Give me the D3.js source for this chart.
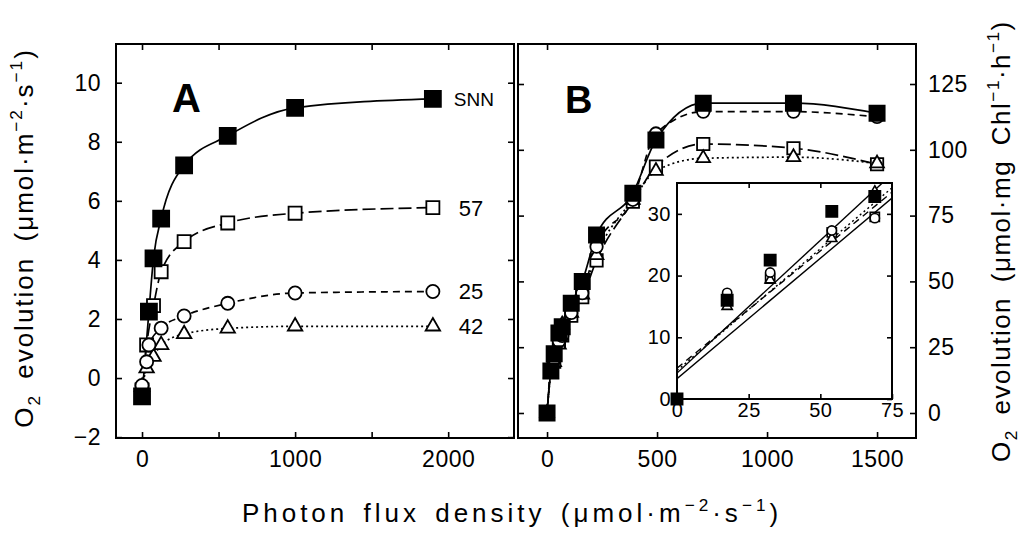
<!DOCTYPE html>
<meta charset="utf-8">
<style>
  body { margin: 0; background: #fff; }
  text { font-family: "Liberation Sans", Arial, sans-serif; fill: #000; }
</style>
<body>
<script src="https://cdn.jsdelivr.net/npm/d3@7"></script>
<script>
// ---- panel A : per leaf area ----
var aX = [0, 30, 45, 75, 125, 275, 560, 1000, 1900];
var aSNN = [-0.62, null, 2.25, 4.05, 5.4, 7.2, 8.2, 9.15, 9.45];
var a57 = [-0.4, 1.12, null, 2.45, 3.6, 4.62, 5.25, 5.58, 5.77];
var a25 = [-0.25, 0.55, 1.12, null, 1.69, 2.1, 2.53, 2.88, 2.93];
var a42 = [-0.3, 0.33, null, 0.72, 1.12, 1.49, 1.68, 1.75, 1.75];
var aLabels = ["SNN", "57", "25", "42"];

// ---- panel B : per chlorophyll ----
var bX = [0, 17.5, 32.5, 54, 69, 110, 160, 225, 390, 495, 710, 1120, 1500];
var bSNN = [0, 16, 22.5, 30.4, 32.8, 41.7, 50, 67.6, 83.5, 103.7, 117.7, 117.7, 113.9];
var b57 = [0, 16, 19.5, 27, 29.5, 37, 44, 58, 80.3, 93.6, 102.2, 100.6, 94.5];
var b25 = [0, 17.2, 20.5, 27.3, 29.3, 38, 45.5, 63.2, 81, 106.2, 114.5, 114.5, 112.5];
var b42 = [0, 15, 19.3, 26, 33.6, 38, 45, 60, 81, 92, 96.8, 97.2, 94.8];

// inset: linear fits of the low light part (order SNN, 57, 25, 42)
var fitIntercept = [4.2, 3.3, 5.0, 4.6];
var fitSlope = [0.43, 0.39, 0.38, 0.395];

var aTicksY = [-2, 0, 2, 4, 6, 8, 10];
var aTicksX = [0, 500, 1000, 1500, 2000];
var bTicksY = [0, 25, 50, 75, 100, 125];
var bTicksX = [0, 500, 1000, 1500];
var iTicksY = [0, 10, 20, 30];
var iTicksX = [0, 25, 50, 75];

var W = 1024, H = 536;
var svg = d3.select("body").append("svg").attr("width", W).attr("height", H);

var boxA = {x0: 116, x1: 514, y0: 44, y1: 438};
var boxB = {x0: 518, x1: 916, y0: 44, y1: 438};
var boxI = {x0: 677, x1: 892, y0: 183, y1: 399};

var xA = d3.scaleLinear().domain([-170, 2430]).range([boxA.x0, boxA.x1]);
var yA = d3.scaleLinear().domain([-2.03, 11.31]).range([boxA.y1, boxA.y0]);
var xB = d3.scaleLinear().domain([-132, 1677]).range([boxB.x0, boxB.x1]);
var yB = d3.scaleLinear().domain([-9.5, 140.2]).range([boxB.y1, boxB.y0]);
var xI = d3.scaleLinear().domain([0, 75]).range([boxI.x0, boxI.x1]);
var yI = d3.scaleLinear().domain([0, 35]).range([boxI.y1, boxI.y0]);

var fmt = d3.format("d");

// series styles: SNN, 57, 25, 42
var dashes = [null, "13,5", "7,5", "2,3"];
var symbols = [d3.symbolSquare, d3.symbolSquare, d3.symbolCircle, d3.symbolTriangle];
var filled = [true, false, false, false];
var sizes = [256, 170, 135, 90];
var drawOrder = [1, 3, 2, 0];

function axis(g, ax, fs) {
  g.call(ax);
  g.select(".domain").remove();
  g.attr("font-size", fs).attr("font-family", null);
  g.selectAll("line").attr("stroke-width", 1.6);
  g.selectAll("text").attr("letter-spacing", "0.5px");
}

function frame(b) {
  svg.append("rect").attr("x", b.x0).attr("y", b.y0)
    .attr("width", b.x1 - b.x0).attr("height", b.y1 - b.y0)
    .attr("fill", "#fff").attr("stroke", "#000").attr("stroke-width", 2);
}

function drawSeries(g, xs, sets, x, y, scale) {
  var line = d3.line()
    .x(function (d) { return x(d[0]); })
    .y(function (d) { return y(d[1]); })
    .curve(d3.curveMonotoneX);
  sets.forEach(function (vals, i) {
    var pts = xs.map(function (v, k) { return [v, vals[k]]; })
      .filter(function (d) { return d[1] != null; });
    g.append("path").datum(pts).attr("d", line)
      .attr("fill", "none").attr("stroke", "#000").attr("stroke-width", 1.7)
      .attr("stroke-dasharray", dashes[i]);
  });
  drawOrder.forEach(function (i) {
    var pts = xs.map(function (v, k) { return [v, sets[i][k]]; })
      .filter(function (d) { return d[1] != null; });
    g.append("g").selectAll("path").data(pts).enter().append("path")
      .attr("transform", function (d) { return "translate(" + x(d[0]) + "," + y(d[1]) + ")"; })
      .attr("d", d3.symbol().type(symbols[i]).size(sizes[i] * scale))
      .attr("fill", filled[i] ? "#000" : "#fff")
      .attr("stroke", "#000").attr("stroke-width", 1.8);
  });
}

// ---- frames ----
frame(boxA);
frame(boxB);

// ---- panel A ----
axis(svg.append("g").attr("transform", "translate(" + boxA.x0 + ",0)"),
  d3.axisLeft(yA).tickValues(aTicksY).tickSize(-6).tickPadding(15), 23);
axis(svg.append("g").attr("transform", "translate(" + boxA.x1 + ",0)"),
  d3.axisRight(yA).tickValues(aTicksY).tickSize(-6).tickFormat(""), 23);
axis(svg.append("g").attr("transform", "translate(0," + boxA.y1 + ")"),
  d3.axisBottom(xA).tickValues(aTicksX).tickSize(-6).tickPadding(13)
    .tickFormat(function (d) { return d % 1000 === 0 ? fmt(d) : ""; }), 23);
axis(svg.append("g").attr("transform", "translate(0," + boxA.y0 + ")"),
  d3.axisTop(xA).tickValues(aTicksX).tickSize(-6).tickFormat(""), 23);

svg.append("clipPath").attr("id", "clipA").append("rect")
  .attr("x", boxA.x0).attr("y", boxA.y0)
  .attr("width", boxA.x1 - boxA.x0).attr("height", boxA.y1 - boxA.y0);
var gA = svg.append("g").attr("clip-path", "url(#clipA)");
var aSets = [aSNN, a57, a25, a42];
drawSeries(gA, aX, aSets, xA, yA, 1);

aLabels.forEach(function (t, i) {
  var last = aSets[i][aSets[i].length - 1];
  svg.append("text")
    .attr("x", xA(aX[aX.length - 1]) + (i === 0 ? 21 : 26))
    .attr("y", yA(last))
    .attr("dy", "0.36em")
    .attr("font-size", i === 0 ? 19 : 22)
    .text(t);
});

svg.append("text").attr("x", 172).attr("y", 112)
  .attr("font-size", 40).attr("font-weight", "bold").text("A");

// ---- panel B ----
axis(svg.append("g").attr("transform", "translate(" + boxB.x0 + ",0)"),
  d3.axisLeft(yB).tickValues(bTicksY).tickSize(-6).tickFormat(""), 23);
axis(svg.append("g").attr("transform", "translate(" + boxB.x1 + ",0)"),
  d3.axisRight(yB).tickValues(bTicksY).tickSize(-6).tickPadding(12).tickFormat(fmt), 23);
axis(svg.append("g").attr("transform", "translate(0," + boxB.y1 + ")"),
  d3.axisBottom(xB).tickValues(bTicksX).tickSize(-6).tickPadding(13).tickFormat(fmt), 23);
axis(svg.append("g").attr("transform", "translate(0," + boxB.y0 + ")"),
  d3.axisTop(xB).tickValues(bTicksX).tickSize(-6).tickFormat(""), 23);

svg.append("clipPath").attr("id", "clipB").append("rect")
  .attr("x", boxB.x0).attr("y", boxB.y0)
  .attr("width", boxB.x1 - boxB.x0).attr("height", boxB.y1 - boxB.y0);
var gB = svg.append("g").attr("clip-path", "url(#clipB)");
var bSets = [bSNN, b57, b25, b42];
drawSeries(gB, bX, bSets, xB, yB, 0.9);

svg.append("text").attr("x", 565).attr("y", 113)
  .attr("font-size", 38).attr("font-weight", "bold").text("B");

// ---- inset ----
frame(boxI);
svg.append("clipPath").attr("id", "clipI").append("rect")
  .attr("x", boxI.x0).attr("y", boxI.y0)
  .attr("width", boxI.x1 - boxI.x0).attr("height", boxI.y1 - boxI.y0);
var gI = svg.append("g").attr("clip-path", "url(#clipI)");
fitIntercept.forEach(function (b, i) {
  var xEnd = Math.min(75, (35 - b) / fitSlope[i]);
  gI.append("line")
    .attr("x1", xI(0)).attr("y1", yI(b))
    .attr("x2", xI(xEnd)).attr("y2", yI(b + fitSlope[i] * xEnd))
    .attr("stroke", "#000").attr("stroke-width", 1.4)
    .attr("stroke-dasharray", i === 0 || i === 1 ? null : dashes[i]);
});
var gIm = svg.append("g");
var inX = bX.slice(0, 5);
drawOrder.forEach(function (i) {
  var vals = bSets[i].slice(0, 5);
  var pts = inX.map(function (v, k) { return [v, vals[k]]; });
  if (i !== 0) pts = pts.slice(1);
  gIm.append("g").selectAll("path").data(pts).enter().append("path")
    .attr("transform", function (d) { return "translate(" + xI(d[0]) + "," + yI(d[1]) + ")"; })
    .attr("d", d3.symbol().type(symbols[i]).size(sizes[i] * 0.5))
    .attr("fill", filled[i] ? "#000" : "#fff")
    .attr("stroke", "#000").attr("stroke-width", 1.6);
});
axis(svg.append("g").attr("transform", "translate(" + boxI.x0 + ",0)"),
  d3.axisLeft(yI).tickValues(iTicksY).tickSize(-5).tickPadding(6), 20);
axis(svg.append("g").attr("transform", "translate(" + boxI.x1 + ",0)"),
  d3.axisRight(yI).tickValues(iTicksY).tickSize(-5).tickFormat(""), 20);
axis(svg.append("g").attr("transform", "translate(0," + boxI.y1 + ")"),
  d3.axisBottom(xI).tickValues(iTicksX).tickSize(-5).tickPadding(4), 20);
axis(svg.append("g").attr("transform", "translate(0," + boxI.y0 + ")"),
  d3.axisTop(xI).tickValues([25, 50]).tickSize(-5).tickFormat(""), 20);

// ---- axis titles ----
// superscript/subscript tspans; each piece resets the baseline shift of the previous one
function titleText(t, pieces) {
  var shift = 0;
  pieces.forEach(function (p) {
    var s = t.append("tspan").text(p.t);
    var target = p.k === "sup" ? -0.42 : p.k === "sub" ? 0.28 : 0;
    if (p.k) s.attr("font-size", "0.66em");
    var fs = p.k ? 0.66 : 1;
    s.attr("dy", ((target - shift) / fs) + "em");
    shift = target;
  });
}

var tL = svg.append("text")
  .attr("transform", "translate(33,238) rotate(-90)")
  .attr("text-anchor", "middle").attr("font-size", 26)
  .attr("letter-spacing", "2px").attr("word-spacing", "6px");
titleText(tL, [{t: "O"}, {t: "2", k: "sub"}, {t: " evolution (\u03bcmol\u00b7m"},
  {t: "\u22122", k: "sup"}, {t: "\u00b7s"}, {t: "\u22121", k: "sup"}, {t: ")"}]);

var tR = svg.append("text")
  .attr("transform", "translate(1010,462) rotate(-90)")
  .attr("text-anchor", "start").attr("font-size", 26)
  .attr("letter-spacing", "1.5px").attr("word-spacing", "6px");
titleText(tR, [{t: "O"}, {t: "2", k: "sub"}, {t: " evolution (\u03bcmol\u00b7mg Chl"},
  {t: "\u22121", k: "sup"}, {t: "\u00b7h"}, {t: "\u22121", k: "sup"}, {t: ")"}]);

var tX = svg.append("text")
  .attr("x", 512).attr("y", 522)
  .attr("text-anchor", "middle").attr("font-size", 26)
  .attr("letter-spacing", "4px").attr("word-spacing", "4px");
titleText(tX, [{t: "Photon flux density (\u03bcmol\u00b7m"}, {t: "\u22122", k: "sup"},
  {t: "\u00b7s"}, {t: "\u22121", k: "sup"}, {t: ")"}]);
</script>
